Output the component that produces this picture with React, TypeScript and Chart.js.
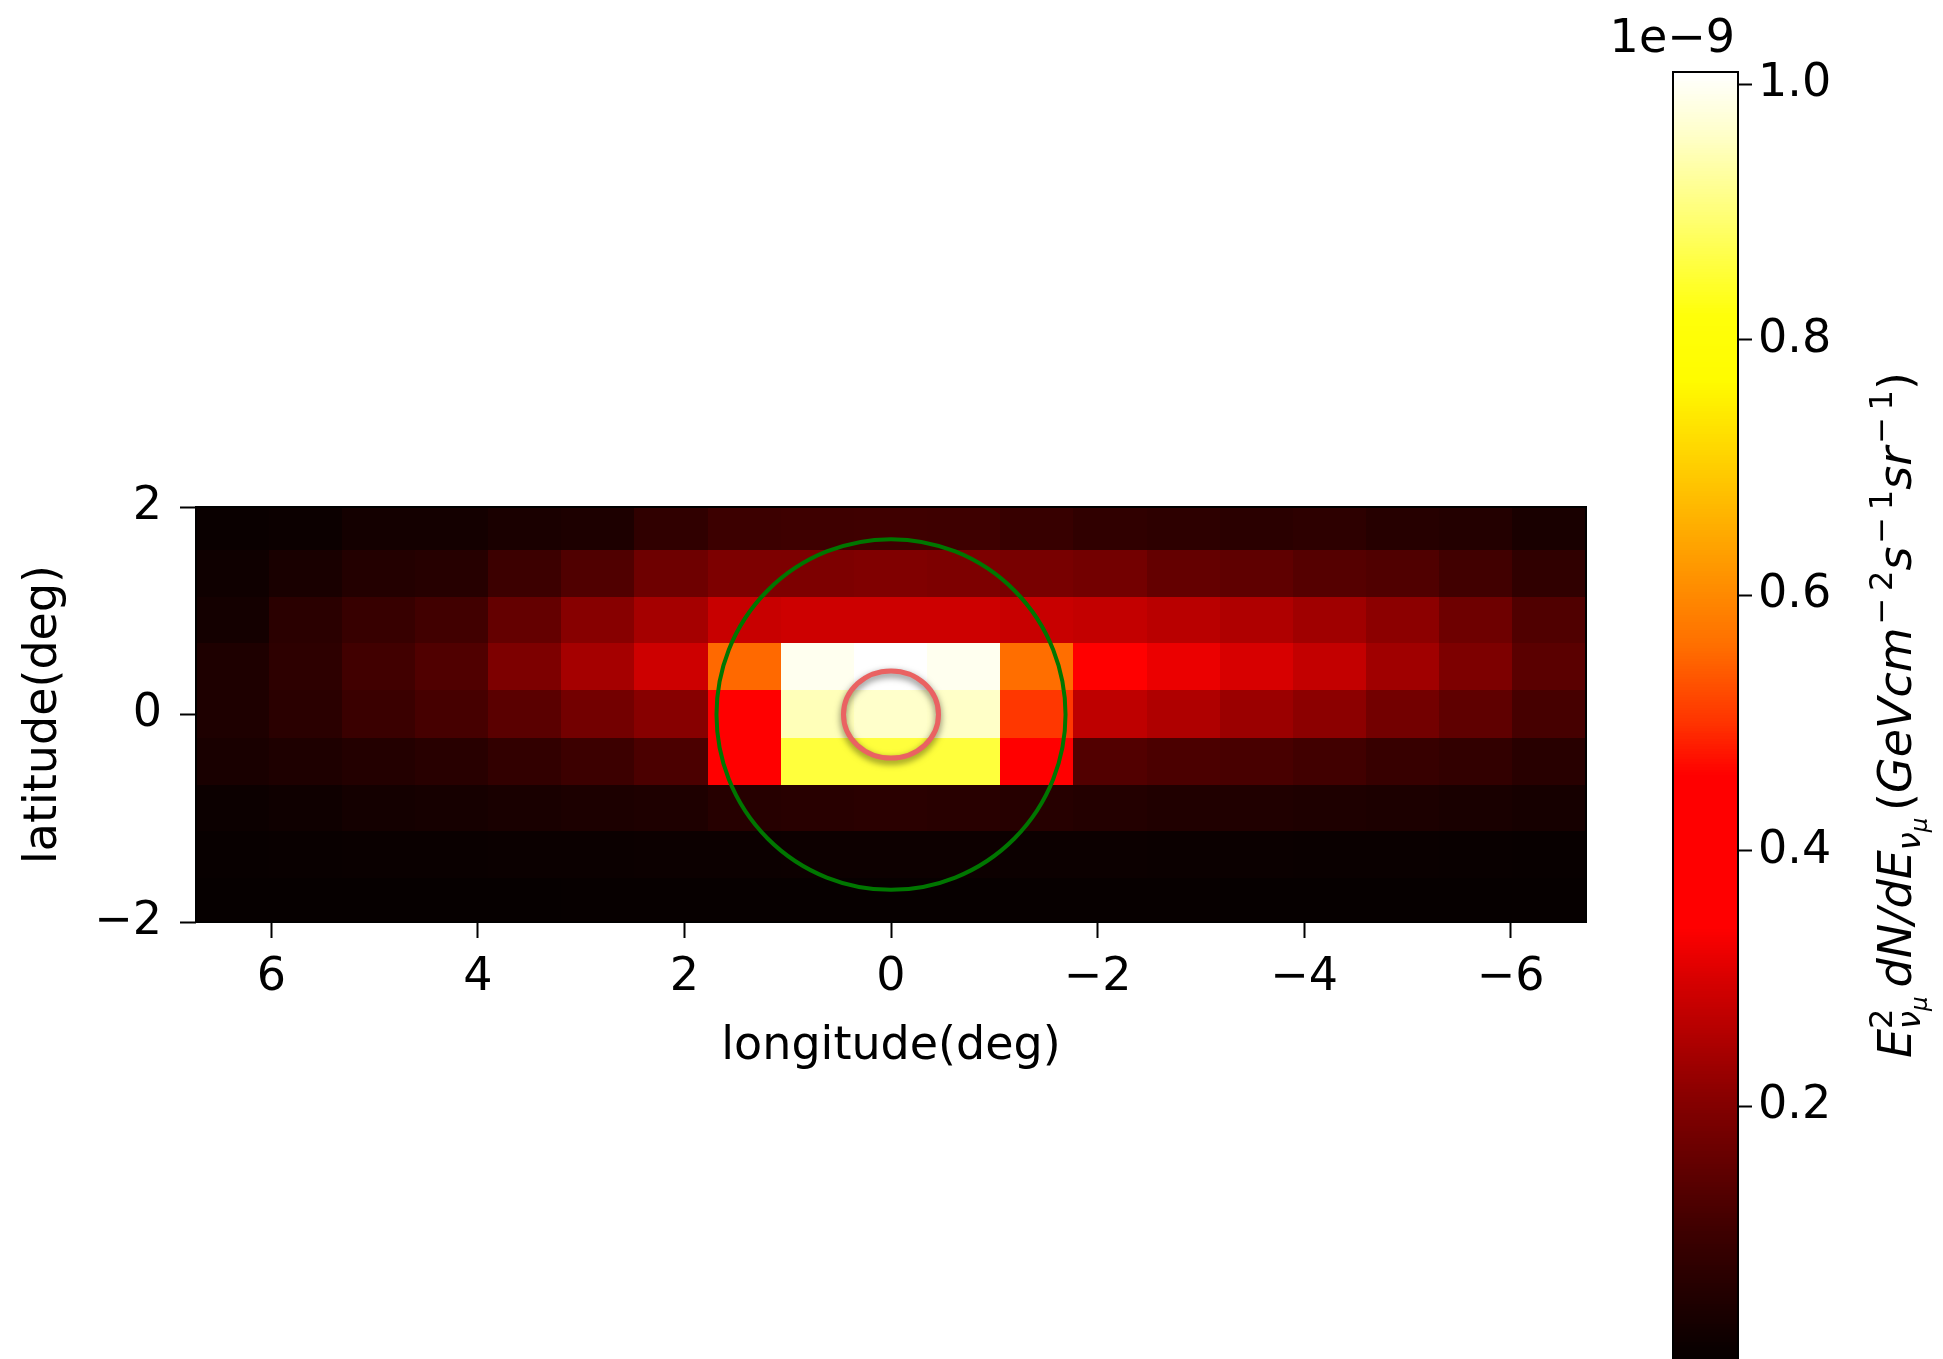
import React, { useEffect, useRef } from 'react';
import { Chart, registerables } from 'chart.js';

Chart.register(...registerables);

// ---------------- data ----------------
// longitude bin edges (deg), left (positive) to right (negative)
const LON_EDGES = [6.73, 6.02, 5.31, 4.6, 3.9, 3.19, 2.48, 1.77, 1.06, 0.35, -0.35, -1.06, -1.77, -2.48, -3.19, -3.9, -4.6, -5.31, -6.02, -6.73];
// latitude bin edges (deg), top to bottom
const LAT_EDGES = [2.0, 1.58, 1.13, 0.68, 0.23, -0.23, -0.68, -1.13, -1.58, -2.0];

// flux per row (units of 1e-9 GeV cm^-2 s^-1 sr^-1), columns follow LON_EDGES
const FLUX_LAT_P1_8 = [0.011, 0.014, 0.029, 0.029, 0.04, 0.045, 0.079, 0.1, 0.103, 0.105, 0.103, 0.091, 0.079, 0.073, 0.068, 0.073, 0.061, 0.055, 0.038];
const FLUX_LAT_P1_4 = [0.02, 0.038, 0.055, 0.061, 0.1, 0.129, 0.171, 0.193, 0.193, 0.197, 0.193, 0.186, 0.179, 0.157, 0.15, 0.136, 0.129, 0.107, 0.079];
const FLUX_LAT_P0_9 = [0.029, 0.068, 0.091, 0.107, 0.157, 0.206, 0.241, 0.282, 0.288, 0.288, 0.288, 0.282, 0.276, 0.265, 0.253, 0.235, 0.212, 0.171, 0.129];
const FLUX_LAT_P0_45 = [0.046, 0.073, 0.107, 0.129, 0.193, 0.241, 0.288, 0.555, 0.995, 1.009, 0.995, 0.56, 0.38, 0.32, 0.3, 0.276, 0.235, 0.193, 0.143];
const FLUX_LAT_0 = [0.046, 0.068, 0.096, 0.114, 0.143, 0.179, 0.206, 0.42, 0.949, 0.963, 0.96, 0.505, 0.27, 0.253, 0.229, 0.212, 0.179, 0.15, 0.114];
const FLUX_LAT_M0_45 = [0.038, 0.046, 0.055, 0.064, 0.082, 0.1, 0.121, 0.43, 0.856, 0.856, 0.856, 0.44, 0.132, 0.121, 0.117, 0.107, 0.091, 0.082, 0.064];
const FLUX_LAT_M0_9 = [0.014, 0.02, 0.029, 0.032, 0.038, 0.043, 0.046, 0.061, 0.064, 0.068, 0.064, 0.061, 0.055, 0.05, 0.05, 0.046, 0.043, 0.038, 0.032];
const FLUX_LAT_M1_4 = [0.008, 0.009, 0.01, 0.011, 0.012, 0.013, 0.014, 0.015, 0.016, 0.016, 0.016, 0.015, 0.014, 0.013, 0.012, 0.011, 0.01, 0.009, 0.008];
const FLUX_LAT_M1_8 = [0.003, 0.003, 0.004, 0.004, 0.004, 0.005, 0.005, 0.005, 0.006, 0.006, 0.006, 0.005, 0.005, 0.005, 0.004, 0.004, 0.004, 0.003, 0.003];

const FLUX_ROWS = [FLUX_LAT_P1_8, FLUX_LAT_P1_4, FLUX_LAT_P0_9, FLUX_LAT_P0_45, FLUX_LAT_0, FLUX_LAT_M0_45, FLUX_LAT_M0_9, FLUX_LAT_M1_4, FLUX_LAT_M1_8];

const X_TICKS = [6, 4, 2, 0, -2, -4, -6];
const Y_TICKS = [2, 0, -2];
const CBAR_TICKS = [0.2, 0.4, 0.6, 0.8, 1.0];
const X_RANGE = [-6.73, 6.73];
const Y_RANGE = [-2, 2];
const V_MIN = 0;
const V_MAX = 1.0094;

// region markers (deg)
const GREEN_CIRCLE = { lon: 0, lat: 0, r: 1.69 };
const RED_ELLIPSE = { lon: 0, lat: 0, rx: 0.46, ry: 0.42 };

const X_TITLE = 'longitude(deg)';
const Y_TITLE = 'latitude(deg)';
const OFFSET_TEXT = '1e\u22129';

// colormap stops: [value, r, g, b]
const CMAP_STOPS = [
  [0.0, 4, 0, 0],
  [0.1, 60, 0, 0],
  [0.2, 130, 0, 0],
  [0.3, 215, 0, 0],
  [0.34, 255, 0, 0],
  [0.46, 255, 0, 0],
  [0.5, 255, 50, 0],
  [0.56, 255, 110, 0],
  [0.62, 255, 150, 0],
  [0.7, 255, 205, 0],
  [0.77, 255, 252, 0],
  [0.82, 255, 255, 10],
  [0.9, 255, 255, 120],
  [0.96, 255, 255, 200],
  [1.0, 255, 255, 245],
  [1.0094, 255, 255, 255],
];

// ---------------- helpers ----------------
const FONT_FAMILY = '"DejaVu Sans", "Liberation Sans", sans-serif';
const FS = 46;

function cmap(v: number): string {
  const s = CMAP_STOPS;
  if (v <= s[0][0]) return `rgb(${s[0][1]},${s[0][2]},${s[0][3]})`;
  for (let i = 1; i < s.length; i++) {
    if (v <= s[i][0]) {
      const a = s[i - 1], b = s[i];
      const t = (v - a[0]) / (b[0] - a[0]);
      const r = Math.round(a[1] + (b[1] - a[1]) * t);
      const g = Math.round(a[2] + (b[2] - a[2]) * t);
      const bl = Math.round(a[3] + (b[3] - a[3]) * t);
      return `rgb(${r},${g},${bl})`;
    }
  }
  const l = s[s.length - 1];
  return `rgb(${l[1]},${l[2]},${l[3]})`;
}

const fmtTick = (v: number) => (v < 0 ? '\u2212' + Math.abs(v) : String(v));

const heatmapPlugin = {
  id: 'heatmap',
  beforeDatasetsDraw(chart: any) {
    const { ctx, chartArea, scales } = chart;
    const x = scales.x, y = scales.y;
    ctx.save();
    ctx.beginPath();
    ctx.rect(chartArea.left, chartArea.top, chartArea.right - chartArea.left, chartArea.bottom - chartArea.top);
    ctx.clip();
    FLUX_ROWS.forEach((row, r) => {
      const ya = y.getPixelForValue(LAT_EDGES[r]);
      const yb = y.getPixelForValue(LAT_EDGES[r + 1]);
      row.forEach((v, c) => {
        const xa = x.getPixelForValue(LON_EDGES[c]);
        const xb = x.getPixelForValue(LON_EDGES[c + 1]);
        const l = Math.min(xa, xb), t = Math.min(ya, yb);
        ctx.fillStyle = cmap(v);
        ctx.fillRect(Math.floor(l), Math.floor(t), Math.ceil(Math.abs(xb - xa)) + 1, Math.ceil(Math.abs(yb - ya)) + 1);
      });
    });
    ctx.restore();
  },
  afterDatasetsDraw(chart: any) {
    const { ctx, chartArea, scales } = chart;
    const x = scales.x, y = scales.y;
    ctx.save();
    // green circle
    const gcx = x.getPixelForValue(GREEN_CIRCLE.lon), gcy = y.getPixelForValue(GREEN_CIRCLE.lat);
    const grx = Math.abs(x.getPixelForValue(GREEN_CIRCLE.lon + GREEN_CIRCLE.r) - gcx);
    const gry = Math.abs(y.getPixelForValue(GREEN_CIRCLE.lat + GREEN_CIRCLE.r) - gcy);
    ctx.beginPath();
    ctx.ellipse(gcx, gcy, grx, gry, 0, 0, Math.PI * 2);
    ctx.strokeStyle = 'rgb(0,118,0)';
    ctx.lineWidth = 4;
    ctx.stroke();
    // red ellipse with shadow
    const rcx = x.getPixelForValue(RED_ELLIPSE.lon), rcy = y.getPixelForValue(RED_ELLIPSE.lat);
    const rrx = Math.abs(x.getPixelForValue(RED_ELLIPSE.lon + RED_ELLIPSE.rx) - rcx);
    const rry = Math.abs(y.getPixelForValue(RED_ELLIPSE.lat + RED_ELLIPSE.ry) - rcy);
    ctx.shadowColor = 'rgba(0,0,0,0.55)';
    ctx.shadowBlur = 7;
    ctx.shadowOffsetY = 3;
    ctx.beginPath();
    ctx.ellipse(rcx, rcy, rrx, rry, 0, 0, Math.PI * 2);
    ctx.strokeStyle = 'rgb(234,98,98)';
    ctx.lineWidth = 5;
    ctx.stroke();
    ctx.restore();
    // frame
    ctx.save();
    ctx.strokeStyle = '#000';
    ctx.lineWidth = 2;
    ctx.strokeRect(chartArea.left, chartArea.top, chartArea.right - chartArea.left, chartArea.bottom - chartArea.top);
    ctx.restore();
  },
};

function drawCbarLabel(ctx: CanvasRenderingContext2D, cx: number, cy: number) {
  const it = (k: number) => `italic ${FS * k}px ${FONT_FAMILY}`;
  const rm = (k: number) => `${FS * k}px ${FONT_FAMILY}`;
  type Item = { t: string; f: string; dy: number; gap?: number };
  type Piece = { items: Item[][]; adv?: number };
  const SUP = -0.42 * FS, SUB = 0.2 * FS, SUBSUB = 0.34 * FS;
  const G = 0.2 * FS * 0.7;
  const pieces: Piece[] = [
    { items: [[{ t: 'E', f: it(1), dy: 0 }]] },
    { items: [[{ t: '2', f: rm(0.7), dy: SUP }], [{ t: '\u03bd', f: it(0.7), dy: SUB }, { t: '\u03bc', f: it(0.5), dy: SUBSUB }]] },
    { items: [[{ t: ' ', f: rm(0.6), dy: 0 }]] },
    { items: [[{ t: 'dN/dE', f: it(1), dy: 0 }]] },
    { items: [[{ t: '\u03bd', f: it(0.7), dy: SUB }, { t: '\u03bc', f: it(0.5), dy: SUBSUB }]] },
    { items: [[{ t: ' ', f: rm(0.45), dy: 0 }]] },
    { items: [[{ t: '(', f: rm(1), dy: 0 }]] },
    { items: [[{ t: 'GeVcm', f: it(1), dy: 0, gap: 3 }]] },
    { items: [[{ t: '\u2212', f: rm(0.7), dy: SUP, gap: G }, { t: '2', f: rm(0.7), dy: SUP }]] },
    { items: [[{ t: 's', f: it(1), dy: 0, gap: 3 }]] },
    { items: [[{ t: '\u2212', f: rm(0.7), dy: SUP, gap: G }, { t: '1', f: rm(0.7), dy: SUP }]] },
    { items: [[{ t: 'sr', f: it(1), dy: 0, gap: 3 }]] },
    { items: [[{ t: '\u2212', f: rm(0.7), dy: SUP, gap: G }, { t: '1', f: rm(0.7), dy: SUP }]] },
    { items: [[{ t: ')', f: rm(1), dy: 0 }]] },
  ];
  ctx.save();
  let total = 0;
  pieces.forEach((p) => {
    let w = 0;
    p.items.forEach((col) => {
      let cw = 0;
      col.forEach((i) => { ctx.font = i.f; cw += ctx.measureText(i.t).width + (i.gap || 0); });
      w = Math.max(w, cw);
    });
    p.adv = w;
    total += w;
  });
  ctx.translate(cx, cy);
  ctx.rotate(-Math.PI / 2);
  ctx.fillStyle = '#000';
  ctx.textBaseline = 'alphabetic';
  ctx.textAlign = 'left';
  let xPos = -total / 2;
  pieces.forEach((p) => {
    p.items.forEach((col) => {
      let xx = xPos;
      col.forEach((i) => {
        ctx.font = i.f;
        ctx.fillText(i.t, xx, i.dy);
        xx += ctx.measureText(i.t).width + (i.gap || 0);
      });
    });
    xPos += p.adv || 0;
  });
  ctx.restore();
}

const colorbarPlugin = {
  id: 'colorbar',
  beforeDatasetsDraw(chart: any) {
    const { ctx, chartArea, scales } = chart;
    const y = scales.y;
    const N = 500;
    ctx.save();
    for (let i = 0; i < N; i++) {
      const v0 = V_MIN + ((V_MAX - V_MIN) * i) / N;
      const v1 = V_MIN + ((V_MAX - V_MIN) * (i + 1)) / N;
      const p0 = y.getPixelForValue(v0), p1 = y.getPixelForValue(v1);
      ctx.fillStyle = cmap((v0 + v1) / 2);
      ctx.fillRect(chartArea.left, Math.floor(p1), chartArea.right - chartArea.left, Math.ceil(p0 - p1) + 1);
    }
    ctx.restore();
  },
  afterDraw(chart: any) {
    const { ctx, chartArea } = chart;
    ctx.save();
    ctx.strokeStyle = '#000';
    ctx.lineWidth = 2;
    ctx.strokeRect(chartArea.left, chartArea.top, chartArea.right - chartArea.left, chartArea.bottom - chartArea.top);
    ctx.fillStyle = '#000';
    ctx.font = `${FS}px ${FONT_FAMILY}`;
    ctx.textAlign = 'right';
    ctx.textBaseline = 'alphabetic';
    ctx.fillText(OFFSET_TEXT, chartArea.right - 3, 52);
    ctx.restore();
    drawCbarLabel(ctx, 311, 715);
  },
};

const tickFont = { family: FONT_FAMILY, size: FS };

export default function App() {
  const mainRef = useRef<HTMLCanvasElement | null>(null);
  const cbarRef = useRef<HTMLCanvasElement | null>(null);

  useEffect(() => {
    document.body.style.margin = '0';
    const centers: { x: number; y: number }[] = [];
    FLUX_ROWS.forEach((row, r) => row.forEach((_, c) => centers.push({ x: (LON_EDGES[c] + LON_EDGES[c + 1]) / 2, y: (LAT_EDGES[r] + LAT_EDGES[r + 1]) / 2 })));

    const main = new Chart(mainRef.current as HTMLCanvasElement, {
      type: 'scatter',
      data: { datasets: [{ data: centers, pointRadius: 0, pointHoverRadius: 0 }] },
      options: {
        animation: false,
        responsive: false,
        events: [],
        layout: { padding: { left: 0, right: 14, top: 507, bottom: 0 } },
        plugins: { legend: { display: false }, tooltip: { enabled: false } },
        scales: {
          x: {
            type: 'linear',
            min: X_RANGE[0],
            max: X_RANGE[1],
            reverse: true,
            afterBuildTicks: (s: any) => { s.ticks = X_TICKS.map((v) => ({ value: v })); },
            afterFit: (s: any) => { s.height = 178; s.paddingLeft = 0; s.paddingRight = 0; },
            ticks: { font: tickFont, color: '#000', padding: 12, callback: (v: any) => fmtTick(Number(v)), maxRotation: 0, autoSkip: false },
            grid: { display: true, drawOnChartArea: false, drawTicks: true, tickLength: 16, tickWidth: 2, tickColor: '#000' },
            border: { display: false },
            title: { display: true, text: X_TITLE, font: tickFont, color: '#000', padding: { top: 0, bottom: 25 } },
          },
          y: {
            type: 'linear',
            min: Y_RANGE[0],
            max: Y_RANGE[1],
            afterBuildTicks: (s: any) => { s.ticks = Y_TICKS.map((v) => ({ value: v })); },
            afterFit: (s: any) => { s.width = 196; s.paddingTop = 0; s.paddingBottom = 0; },
            ticks: { font: tickFont, color: '#000', padding: 18, callback: (v: any) => fmtTick(Number(v)), autoSkip: false },
            grid: { display: true, drawOnChartArea: false, drawTicks: true, tickLength: 16, tickWidth: 2, tickColor: '#000' },
            border: { display: false },
            title: { display: true, text: Y_TITLE, font: tickFont, color: '#000', padding: { top: 16, bottom: 0 } },
          },
        },
      },
      plugins: [heatmapPlugin],
    } as any);

    const cbar = new Chart(cbarRef.current as HTMLCanvasElement, {
      type: 'scatter',
      data: { datasets: [{ data: [], pointRadius: 0 }] },
      options: {
        animation: false,
        responsive: false,
        events: [],
        layout: { padding: { left: 73, right: 0, top: 72, bottom: 4 } },
        plugins: { legend: { display: false }, tooltip: { enabled: false } },
        scales: {
          x: { type: 'linear', display: false, min: 0, max: 1 },
          y: {
            type: 'linear',
            position: 'right',
            min: V_MIN,
            max: V_MAX,
            afterBuildTicks: (s: any) => { s.ticks = CBAR_TICKS.map((v) => ({ value: v })); },
            afterFit: (s: any) => { s.width = 205; s.paddingTop = 0; s.paddingBottom = 0; },
            ticks: { font: tickFont, color: '#000', padding: 6, callback: (v: any) => Number(v).toFixed(1), autoSkip: false },
            grid: { display: true, drawOnChartArea: false, drawTicks: true, tickLength: 14, tickWidth: 2, tickColor: '#000' },
            border: { display: false },
          },
        },
      },
      plugins: [colorbarPlugin],
    } as any);

    return () => {
      main.destroy();
      cbar.destroy();
    };
  }, []);

  return (
    <div style={{ position: 'fixed', left: 0, top: 0, width: 1943, height: 1359, overflow: 'hidden', background: '#fff' }}>
      <canvas ref={mainRef} width={1600} height={1100} style={{ position: 'absolute', left: 0, top: 0, width: 1600, height: 1100 }} />
      <canvas ref={cbarRef} width={343} height={1366} style={{ position: 'absolute', left: 1600, top: 0, width: 343, height: 1366 }} />
    </div>
  );
}
